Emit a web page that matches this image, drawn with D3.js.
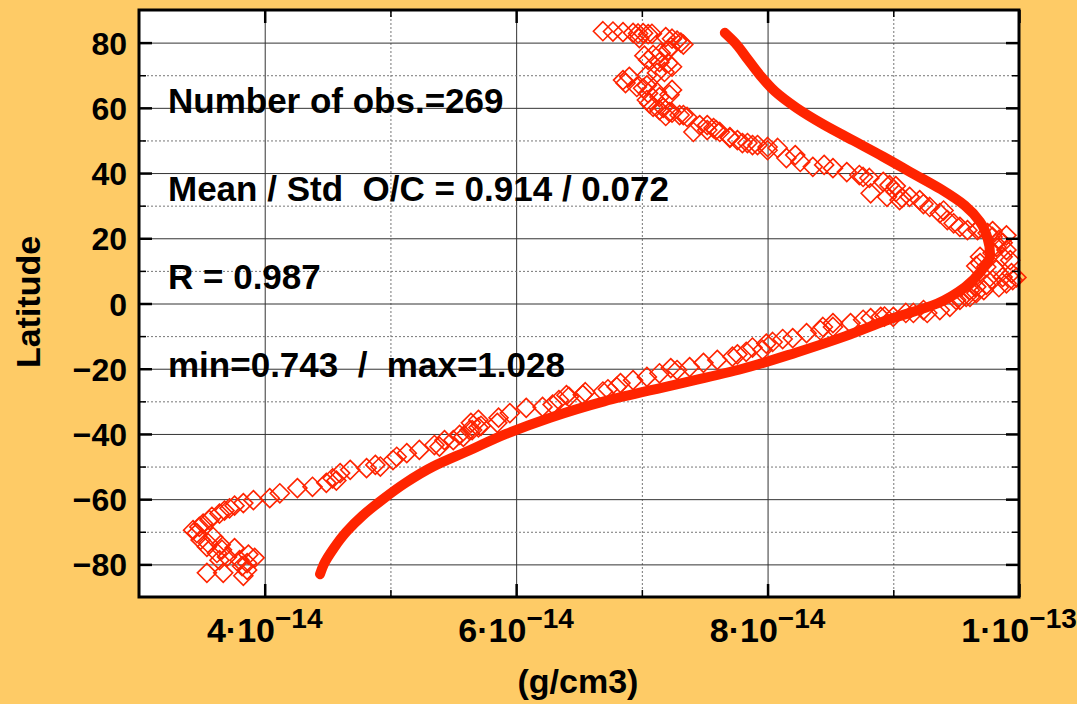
<!DOCTYPE html>
<html>
<head>
<meta charset="utf-8">
<script src="https://cdn.jsdelivr.net/npm/d3@7"></script>
<style>
  body { margin: 0; background: #fecb66; }
  svg { display: block; font-family: "Liberation Sans", Arial, sans-serif; font-weight: bold; }
</style>
</head>
<body>
<svg id="chart"></svg>
<script>
// density values are in units of 1e-14 g/cm3
const modelLat = [83, 80, 75, 70, 65, 60, 55, 50, 45, 40, 35, 30, 25, 20, 15, 10, 5, 0,
  -5, -10, -15, -20, -25, -30, -35, -40, -45, -50, -55, -60, -65, -70, -75, -80, -83];
const modelDensity = [7.66, 7.74, 7.84, 7.94, 8.06, 8.23, 8.44, 8.68, 8.92, 9.15, 9.38, 9.57, 9.69, 9.75, 9.77, 9.70, 9.57, 9.35,
  8.96, 8.62, 8.23, 7.80, 7.25, 6.70, 6.27, 5.92, 5.63, 5.34, 5.12, 4.94, 4.78, 4.65, 4.55, 4.47, 4.44];

// observations: [latitude, density]
const observations = [
  [83.5,6.69],[83.4,6.77],[83.2,6.85],[83.0,6.93],[82.8,6.97],[82.9,7.01],[82.6,7.05],[82.7,7.08],
  [81.4,6.98],[81.7,7.19],[81.2,7.24],[80.6,7.28],[80.0,7.31],[79.4,7.33],[78.7,7.23],[77.7,7.21],
  [76.8,7.15],[76.2,7.09],[76.0,7.02],[74.7,7.05],[74.0,7.14],[73.7,7.21],[72.6,7.24],[71.0,7.18],
  [70.7,7.12],[70.0,7.04],[69.5,6.90],[68.5,6.85],[67.6,6.87],[66.4,6.96],[66.9,7.04],[66.0,7.01],
  [65.5,7.24],[64.8,7.12],[64.5,7.05],[64.0,7.22],[63.3,7.14],[62.4,7.04],[61.4,7.06],[60.3,7.09],
  [60.0,7.17],[59.3,7.14],[58.7,7.22],[58.5,7.24],[57.8,7.30],[57.8,7.33],[57.2,7.36],[57.5,7.19],
  [54.7,7.46],[54.7,7.52],[53.8,7.57],[53.2,7.52],[53.2,7.59],[52.6,7.41],[52.6,7.62],[51.0,7.70],
  [50.8,7.70],[50.1,7.76],[49.2,7.80],[49.2,7.84],[48.6,7.88],[48.6,7.92],[48.0,8.00],[47.7,8.08],
  [47.0,8.00],[45.5,8.22],[44.6,8.15],[43.4,8.26],[42.5,8.45],[41.9,8.36],[41.5,8.52],[40.3,8.63],
  [39.4,8.73],[38.8,8.76],[38.5,8.81],[37.3,8.92],[36.3,8.97],[36.0,9.02],[34.2,9.02],[33.8,8.82],
  [32.7,8.95],[32.7,9.13],[32.4,9.07],[31.7,9.05],[31.7,9.21],[30.5,9.24],[29.6,9.29],[28.5,9.40],
  [27.7,9.37],[25.6,9.43],[24.6,9.48],[23.5,9.53],[23.0,9.68],[22.5,9.59],[22.5,9.67],[22.2,9.79],
  [21.6,9.75],[20.9,9.90],[20.4,9.79],[19.5,9.84],[18.6,9.87],[17.3,9.82],[16.4,9.90],[15.5,9.79],
  [14.3,9.69],[14.3,9.87],[13.3,9.93],[12.4,9.69],[11.5,9.66],[11.2,9.74],[10.3,9.82],[9.3,9.94],
  [8.1,9.87],[8.0,9.98],[7.2,9.95],[7.2,9.79],[6.2,9.90],[5.7,9.74],[5.1,9.66],[5.0,9.84],
  [4.1,9.61],[4.1,9.72],[3.2,9.66],[2.0,9.58],[2.0,9.61],[1.1,9.50],[1.1,9.53],[-1.0,9.45],
  [-2.0,9.37],[-2.9,9.27],[-2.0,9.24],[-2.9,9.16],[-2.9,9.10],[-4.1,9.00],[-4.0,8.93],[-4.1,8.90],
  [-4.5,8.82],[-5.0,8.76],[-6.0,8.66],[-6.0,8.52],[-7.2,8.52],[-7.2,8.44],[-8.2,8.42],[-9.1,8.31],
  [-10.6,8.20],[-10.9,8.12],[-11.8,8.04],[-12.3,7.99],[-13.5,7.88],[-14.2,7.96],[-14.8,7.83],[-15.6,7.76],
  [-16.3,7.72],[-17.3,7.60],[-18.2,7.49],[-19.5,7.38],[-19.8,7.23],[-20.4,7.28],[-21.4,7.14],[-22.5,7.04],
  [-23.5,6.93],[-24.4,6.83],[-25.6,6.80],[-26.3,6.73],[-27.0,6.69],[-27.2,6.55],[-28.0,6.53],[-28.1,6.40],
  [-28.6,6.42],[-29.6,6.34],[-31.0,6.29],[-31.7,6.21],[-32.0,6.08],[-33.6,5.95],[-35.0,5.86],[-35.7,5.70],
  [-36.6,5.64],[-36.6,5.85],[-37.5,5.72],[-38.0,5.70],[-38.8,5.63],[-38.8,5.65],[-40.3,5.55],[-40.9,5.58],
  [-41.9,5.43],[-41.9,5.50],[-43.4,5.35],[-43.9,5.39],[-44.9,5.23],[-45.9,5.13],[-47.0,5.05],[-48.0,5.02],
  [-49.5,4.88],[-50.0,4.92],[-50.5,4.81],[-51.0,4.68],[-52.0,4.60],[-53.6,4.54],[-54.3,4.57],[-55.0,4.49],
  [-56.2,4.38],[-56.6,4.26],[-58.2,4.12],[-59.7,4.04],[-60.3,3.91],[-61.2,3.83],[-62.0,3.76],[-62.8,3.72],
  [-63.5,3.68],[-64.4,3.64],[-65.4,3.58],[-66.4,3.56],[-67.5,3.51],[-68.5,3.48],[-69.5,3.43],[-70.4,3.46],
  [-71.6,3.59],[-72.5,3.49],[-73.5,3.55],[-74.0,3.65],[-74.6,3.54],[-75.0,3.76],[-75.5,3.66],[-76.5,3.62],
  [-77.0,3.87],[-77.7,3.70],[-78.0,3.92],[-78.7,3.80],[-78.7,3.64],[-79.6,3.86],[-80.5,3.82],[-81.7,3.86],
  [-82.6,3.54],[-82.6,3.67],[-83.5,3.83]
];

const yMajor = [-80, -60, -40, -20, 0, 20, 40, 60, 80];
const yMinor = [-70, -50, -30, -10, 10, 30, 50, 70];
const xMajor = [4, 6, 8, 10];
const xMinor = [5, 7, 9];
const xTickLabels = { 4: ['4·10', '−14'], 6: ['6·10', '−14'], 8: ['8·10', '−14'], 10: ['1·10', '−13'] };

const annotations = [
  'Number of obs.=269',
  'Mean / Std  O/C = 0.914 / 0.072',
  'R = 0.987',
  'min=0.743  /  max=1.028'
];

const width = 1077, height = 704;
const plot = { left: 139, right: 1019, top: 10, bottom: 597 };
const red = '#ff2400';

const svg = d3.select('#chart').attr('width', width).attr('height', height);

const x = d3.scaleLinear().domain([3, 10]).range([plot.left, plot.right]);
const y = d3.scaleLinear().domain([-90, 90]).range([plot.bottom, plot.top]);
const pw = plot.right - plot.left, ph = plot.bottom - plot.top;

// plot background
svg.append('rect')
  .attr('x', plot.left).attr('y', plot.top)
  .attr('width', pw).attr('height', ph)
  .attr('fill', '#fff');

// grid lines
function grid(axis, values, tx, ty, dotted) {
  const g = svg.append('g')
    .attr('transform', `translate(${tx},${ty})`)
    .call(axis.tickValues(values).tickFormat(''));
  g.select('.domain').remove();
  g.selectAll('line')
    .attr('stroke', dotted ? '#777' : '#333')
    .attr('stroke-width', 1)
    .attr('stroke-dasharray', dotted ? '2,2' : null);
}
grid(d3.axisBottom(x).tickSize(-ph), xMajor, 0, plot.bottom, false);
grid(d3.axisBottom(x).tickSize(-ph), xMinor, 0, plot.bottom, true);
grid(d3.axisLeft(y).tickSize(-pw), yMajor, plot.left, 0, false);
grid(d3.axisLeft(y).tickSize(-pw), yMinor, plot.left, 0, true);

// observations (open diamonds)
const diamond = 'M0,-9.5L9.5,0L0,9.5L-9.5,0Z';
svg.append('g')
  .selectAll('path')
  .data(observations)
  .enter()
  .append('path')
  .attr('d', diamond)
  .attr('transform', d => `translate(${x(d[1])},${y(d[0])})`)
  .attr('fill', 'none')
  .attr('stroke', red)
  .attr('stroke-width', 1.6);

// model curve
const modelData = modelLat.map((lat, i) => ({ lat, value: modelDensity[i] }));
const line = d3.line()
  .x(d => x(d.value))
  .y(d => y(d.lat))
  .curve(d3.curveMonotoneY);
svg.append('path')
  .datum(modelData)
  .attr('d', line)
  .attr('fill', 'none')
  .attr('stroke', red)
  .attr('stroke-width', 10)
  .attr('stroke-linecap', 'round');

// frame
svg.append('rect')
  .attr('x', plot.left).attr('y', plot.top)
  .attr('width', pw).attr('height', ph)
  .attr('fill', 'none')
  .attr('stroke', '#000')
  .attr('stroke-width', 3);

// inside ticks on all four sides
function ticks(axis, values, tx, ty, size, sw) {
  const g = svg.append('g')
    .attr('transform', `translate(${tx},${ty})`)
    .call(axis.tickValues(values).tickSize(-size).tickFormat(''));
  g.select('.domain').remove();
  g.selectAll('line').attr('stroke', '#000').attr('stroke-width', sw);
}
ticks(d3.axisBottom(x), xMajor, 0, plot.bottom, 13, 2.5);
ticks(d3.axisBottom(x), xMinor, 0, plot.bottom, 7, 1.5);
ticks(d3.axisTop(x), xMajor, 0, plot.top, 13, 2.5);
ticks(d3.axisTop(x), xMinor, 0, plot.top, 7, 1.5);
ticks(d3.axisLeft(y), yMajor, plot.left, 0, 13, 2.5);
ticks(d3.axisLeft(y), yMinor, plot.left, 0, 7, 1.5);
ticks(d3.axisRight(y), yMajor, plot.right, 0, 13, 2.5);
ticks(d3.axisRight(y), yMinor, plot.right, 0, 7, 1.5);

// y tick labels
const yAxis = svg.append('g')
  .attr('transform', `translate(${plot.left},0)`)
  .call(d3.axisLeft(y).tickValues(yMajor).tickSize(0).tickPadding(12));
yAxis.select('.domain').remove();
yAxis.selectAll('text')
  .attr('font-size', 32)
  .attr('font-family', '"Liberation Sans", Arial, sans-serif')
  .attr('font-weight', 'bold')
  .attr('fill', '#000')
  .attr('dy', '0.36em');

// x tick labels with exponent
const xl = svg.append('g')
  .selectAll('text')
  .data(xMajor)
  .enter()
  .append('text')
  .attr('x', d => x(d))
  .attr('y', 642)
  .attr('text-anchor', 'middle')
  .attr('font-size', 34)
  .attr('fill', '#000');
xl.append('tspan').text(d => xTickLabels[d][0]);
xl.append('tspan')
  .attr('font-size', 28)
  .attr('dy', -14)
  .text(d => xTickLabels[d][1]);

// axis titles
svg.append('text')
  .attr('transform', 'translate(40,302) rotate(-90)')
  .attr('text-anchor', 'middle')
  .attr('font-size', 34)
  .text('Latitude');

svg.append('text')
  .attr('x', 578).attr('y', 693)
  .attr('text-anchor', 'middle')
  .attr('font-size', 34)
  .text('(g/cm3)');

// statistics text
svg.append('g')
  .selectAll('text')
  .data(annotations)
  .enter()
  .append('text')
  .attr('x', 168)
  .attr('y', (d, i) => 113 + i * 88)
  .attr('font-size', 35)
  .style('white-space', 'pre')
  .attr('fill', '#000')
  .text(d => d);
</script>
</body>
</html>
